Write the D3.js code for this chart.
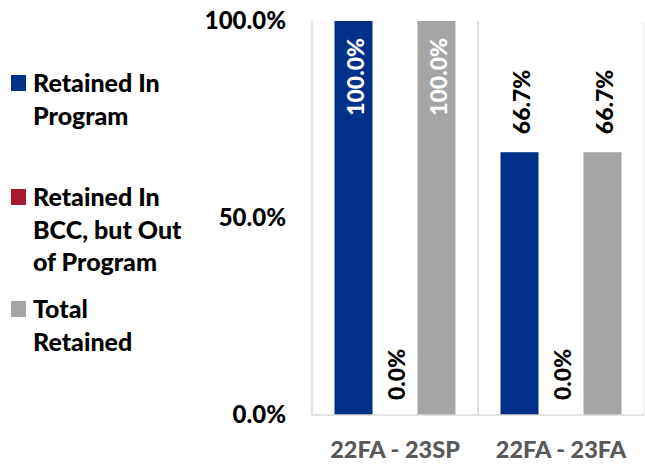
<!DOCTYPE html>
<html>
<head>
<meta charset="utf-8">
<script src="https://cdn.jsdelivr.net/npm/d3@7"></script>
<style>
  html, body { margin: 0; padding: 0; background: #ffffff; }
  svg text { font-family: Lato, "Open Sans", sans-serif; font-weight: 900; }
</style>
</head>
<body>
<svg id="chart" width="645" height="464"></svg>
<script>
// Retention rates by cohort period
const categories = ["22FA - 23SP", "22FA - 23FA"];
const seriesNames = ["Retained In Program", "Retained In BCC, but Out of Program", "Total Retained"];
const legendLines = [["Retained In", "Program"], ["Retained In", "BCC, but Out", "of Program"], ["Total", "Retained"]];
const retainedInProgram = [100.0, 66.7];
const retainedInBCC = [0.0, 0.0];
const totalRetained = [100.0, 66.7];
const yTicks = [0, 50, 100];
const colors = ["#003087", "#A6192E", "#A5A5A5"];

const seriesValues = [retainedInProgram, retainedInBCC, totalRetained];
const data = categories.map((c, i) => ({
  category: c,
  values: seriesNames.map((s, k) => ({ series: s, key: k, value: seriesValues[k][i] }))
}));

const svg = d3.select("#chart");
const plot = { left: 312, right: 644, top: 21, bottom: 415 };
const font = "Lato, 'Open Sans', sans-serif";

const x0 = d3.scaleBand().domain(categories).range([plot.left, plot.right]).padding(0);
const x1 = d3.scaleBand().domain(d3.range(seriesNames.length))
  .range([0, x0.bandwidth()]).paddingInner(0.084).paddingOuter(0.542);
const y = d3.scaleLinear().domain([0, 100]).range([plot.bottom, plot.top]);

// Category separators (vertical gridlines)
const gridColor = "#D9D9D9";
svg.append("g").selectAll("line")
  .data(categories.map(c => x0(c)).concat([plot.right]))
  .join("line")
  .attr("x1", d => d).attr("x2", d => d)
  .attr("y1", plot.top).attr("y2", plot.bottom)
  .attr("stroke", (d, i) => i === categories.length ? "#EFEFEF" : gridColor)
  .attr("stroke-width", 1.5);

// Y axis labels
const yAxis = d3.axisLeft(y).tickValues(yTicks).tickFormat(d => d3.format(".1f")(d) + "%").tickSize(0).tickPadding(0);
const yG = svg.append("g").attr("transform", `translate(286,0)`).call(yAxis);
yG.select(".domain").remove();
yG.selectAll("text").attr("font-size", 24).attr("fill", "#000")
  .attr("font-family", font).attr("font-weight", 900);

// Bars
const groups = svg.append("g").selectAll("g")
  .data(data).join("g")
  .attr("transform", d => `translate(${x0(d.category)},0)`);

groups.selectAll("rect")
  .data(d => d.values).join("rect")
  .attr("x", d => x1(d.key))
  .attr("width", x1.bandwidth())
  .attr("y", d => y(d.value))
  .attr("height", d => y(0) - y(d.value))
  .attr("fill", d => colors[d.key]);

// Data labels (rotated)
const fmt = v => d3.format(".1f")(v) + "%";
groups.selectAll("text.val")
  .data(d => d.values).join("text")
  .attr("class", "val")
  .attr("font-size", 23)
  .attr("dominant-baseline", "central")
  .attr("transform", d => {
    const cx = x1(d.key) + x1.bandwidth() / 2 + 1;
    let ty;
    if (d.value >= 95) ty = y(d.value) + 17;
    else if (d.value === 0) ty = y(0) - 15;
    else ty = y(d.value) - 18;
    return `translate(${cx},${ty}) rotate(-90)`;
  })
  .attr("text-anchor", d => d.value >= 95 ? "end" : "start")
  .attr("fill", d => d.value >= 95 ? "#FFFFFF" : "#000000")
  .text(d => fmt(d.value));

// X axis line
svg.append("line")
  .attr("x1", plot.left).attr("x2", plot.right)
  .attr("y1", plot.bottom).attr("y2", plot.bottom)
  .attr("stroke", gridColor).attr("stroke-width", 1.5);

// X axis labels
const xAxis = d3.axisBottom(x0).tickSize(0).tickPadding(0);
const xG = svg.append("g").attr("transform", `translate(0,${plot.bottom})`).call(xAxis);
xG.select(".domain").remove();
xG.selectAll("text")
  .attr("y", 43).attr("dy", null)
  .attr("font-size", 23.5).attr("fill", "#595959")
  .attr("font-family", font).attr("font-weight", 900);

// Legend
const legendTops = [75, 189, 301];
const lineH = 32.5;
const legend = svg.append("g");
seriesNames.forEach((s, k) => {
  const top = legendTops[k];
  legend.append("rect")
    .attr("x", 11).attr("y", top).attr("width", 15).attr("height", 16)
    .attr("fill", colors[k]);
  const t = legend.append("text").attr("x", 33).attr("font-size", 25).attr("fill", "#000");
  legendLines[k].forEach((ln, j) => {
    t.append("tspan").attr("x", 33).attr("y", top + 17 + j * lineH).text(ln);
  });
});
</script>
</body>
</html>
